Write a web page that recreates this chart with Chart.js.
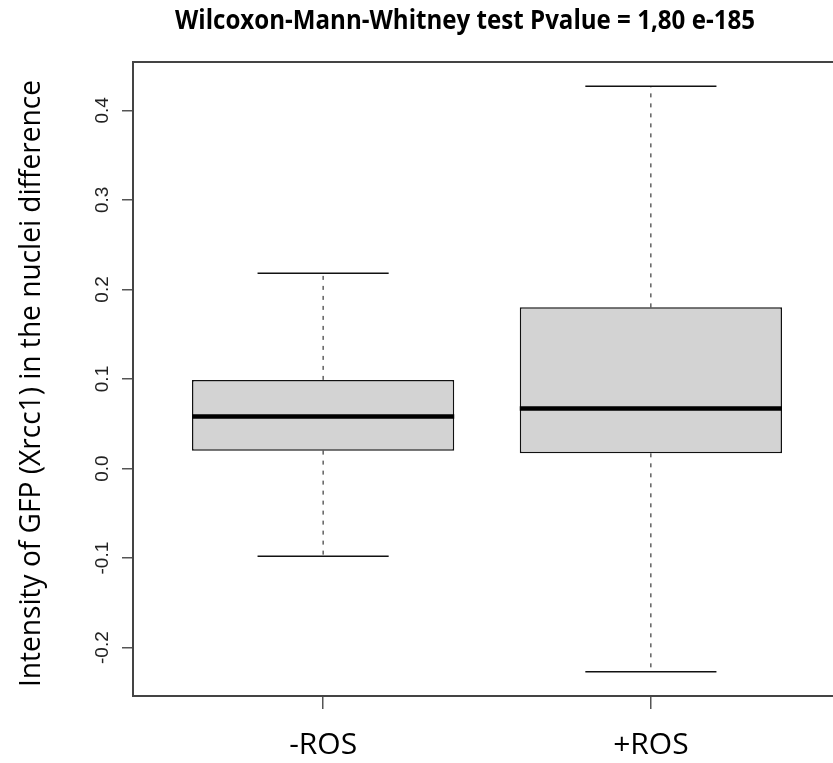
<!DOCTYPE html>
<html>
<head>
<meta charset="utf-8">
<script src="https://cdn.jsdelivr.net/npm/chart.js@4.4.0/dist/chart.umd.min.js"></script>
<style>
  html, body { margin: 0; padding: 0; background: #fff; overflow: hidden; }
  #wrap { width: 833px; height: 763px; overflow: hidden; position: relative; }
  #chart { position: absolute; left: 0; top: 0; }
</style>
</head>
<body>
<div id="wrap"><canvas id="chart" width="845" height="763" style="width:845px;height:763px"></canvas></div>
<script>
// Box plot statistics
const groups = ["-ROS", "+ROS"];
const lowerWhisker = [-0.098, -0.227];
const lowerQuartile = [0.020, 0.017];
const medians = [0.058, 0.067];
const upperQuartile = [0.099, 0.180];
const upperWhisker = [0.218, 0.427];

// Y axis ticks and their labels
const yTickValues = [-0.2, -0.1, 0.0, 0.1, 0.2, 0.3, 0.4];
const yTickLabels = ["-0.2", "-0.1", "0.0", "0.1", "0.2", "0.3", "0.4"];

const titleText = "Wilcoxon-Mann-Whitney test Pvalue = 1,80 e-185";
const yTitleText = "Intensity of GFP (Xrcc1) in the nuclei difference";

// Draw text squeezed to a given width (the original used a narrow font)
function fitText(ctx, text, x, y, width, angle) {
  const w = ctx.measureText(text).width;
  ctx.save();
  ctx.translate(x, y);
  ctx.rotate(angle);
  ctx.scale(Math.min(1, width / w), 1);
  ctx.fillText(text, 0, 0);
  ctx.restore();
}

// Whiskers, caps and medians on top of the floating bars
const boxplotPlugin = {
  id: "boxplot",
  afterDatasetsDraw(chart) {
    const ctx = chart.ctx;
    const x = chart.scales.x;
    const y = chart.scales.y;
    const bars = chart.getDatasetMeta(0).data;
    ctx.save();
    groups.forEach((g, i) => {
      const cx = x.getPixelForValue(i + 1);
      const half = bars[i].width / 2;

      // dashed whiskers
      ctx.strokeStyle = "#111";
      ctx.lineWidth = 1;
      ctx.setLineDash([4, 6]);
      ctx.beginPath();
      ctx.moveTo(cx, y.getPixelForValue(upperQuartile[i]));
      ctx.lineTo(cx, y.getPixelForValue(upperWhisker[i]));
      ctx.moveTo(cx, y.getPixelForValue(lowerQuartile[i]));
      ctx.lineTo(cx, y.getPixelForValue(lowerWhisker[i]));
      ctx.stroke();

      // whisker caps
      ctx.setLineDash([]);
      ctx.lineWidth = 1.5;
      ctx.beginPath();
      [upperWhisker[i], lowerWhisker[i]].forEach(v => {
        const py = y.getPixelForValue(v);
        ctx.moveTo(cx - half / 2, py);
        ctx.lineTo(cx + half / 2, py);
      });
      ctx.stroke();

      // median
      ctx.strokeStyle = "#000";
      ctx.lineWidth = 4.5;
      const my = y.getPixelForValue(medians[i]);
      ctx.beginPath();
      ctx.moveTo(cx - half, my);
      ctx.lineTo(cx + half, my);
      ctx.stroke();
    });
    ctx.restore();
  },
  afterDraw(chart) {
    const ctx = chart.ctx;
    const area = chart.chartArea;
    const y = chart.scales.y;
    ctx.save();

    // plot frame
    ctx.strokeStyle = "#444";
    ctx.lineWidth = 2;
    ctx.strokeRect(area.left, area.top, area.right - area.left, area.bottom - area.top);

    // rotated y tick labels, R style
    ctx.fillStyle = "#222";
    ctx.font = "19px 'Liberation Sans', Arial, sans-serif";
    ctx.textAlign = "center";
    ctx.textBaseline = "alphabetic";
    yTickValues.forEach((v, i) => {
      ctx.save();
      ctx.translate(108, y.getPixelForValue(v));
      ctx.rotate(-Math.PI / 2);
      ctx.fillText(yTickLabels[i], 0, 0);
      ctx.restore();
    });

    // y axis title
    ctx.fillStyle = "#000";
    ctx.font = "30px 'Open Sans', sans-serif";
    fitText(ctx, yTitleText, 40, 383.5, 607, -Math.PI / 2);

    // main title
    ctx.font = "bold 26px 'Open Sans', sans-serif";
    fitText(ctx, titleText, 465, 29, 580, 0);

    ctx.restore();
  }
};

new Chart(document.getElementById("chart"), {
  type: "bar",
  data: {
    datasets: [{
      data: groups.map((g, i) => ({ x: i + 1, y: [lowerQuartile[i], upperQuartile[i]] })),
      backgroundColor: "#d3d3d3",
      borderColor: "#111",
      borderWidth: 1.5,
      borderSkipped: false,
      barPercentage: 0.8,
      categoryPercentage: 1
    }]
  },
  options: {
    responsive: false,
    animation: false,
    layout: { padding: { top: 62, right: 4, left: 0, bottom: 0 } },
    plugins: {
      legend: { display: false },
      tooltip: { enabled: false },
      title: { display: false }
    },
    scales: {
      x: {
        type: "linear",
        min: 0.42,
        max: 2.58,
        offset: false,
        afterBuildTicks: s => { s.ticks = groups.map((g, i) => ({ value: i + 1 })); },
        afterFit: s => { s.height = 67; },
        grid: { offset: false, drawOnChartArea: false, drawTicks: true, tickLength: 13, color: "#555", lineWidth: 1.5 },
        border: { display: false },
        ticks: {
          callback: (v, i) => groups[i],
          font: { family: "'Open Sans', sans-serif", size: 30 },
          color: "#000",
          padding: 18,
          maxRotation: 0,
          autoSkip: false
        }
      },
      y: {
        min: -0.254,
        max: 0.454,
        afterBuildTicks: s => { s.ticks = yTickValues.map(v => ({ value: v })); },
        afterFit: s => { s.width = 133; },
        grid: { drawOnChartArea: false, drawTicks: true, tickLength: 11, color: "#555", lineWidth: 1.5 },
        border: { display: false },
        ticks: { display: false }
      }
    }
  },
  plugins: [boxplotPlugin]
});
</script>
</body>
</html>
